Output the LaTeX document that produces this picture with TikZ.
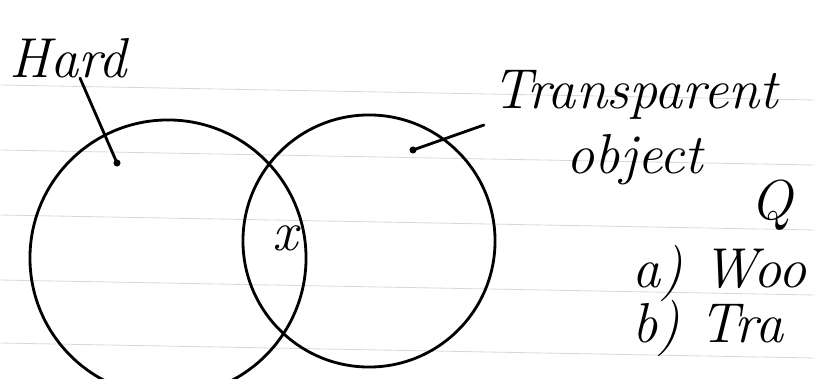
\documentclass[tikz,border=0pt]{standalone}
\usetikzlibrary{positioning}
\begin{document}
\begin{tikzpicture}[
    x=0.025cm, y=-0.025cm,
    setc/.style={circle, draw, line width=2pt, inner sep=0pt},
    hand/.style={font=\fontsize{40}{44}\selectfont\itshape, inner sep=0pt},
    pointer/.style={line width=2pt, line cap=round},
    ruled/.style={gray!30, line width=0.6pt}
]
    \useasboundingbox (0,0) rectangle (814,379);
    % paper lines
    \foreach \yl in {85,150,215,280,343}
        \draw[ruled] (0,\yl) -- (814,\yl+15);

    \node[setc, minimum size=6.9cm] (hard) at (168,258) {};
    \node[setc, minimum size=6.3cm] (transp) at (369,241) {};
    \node[hand] (both) at (285,238) {x};

    \node[hand] (hardlbl) at (68,58) {Hard};
    \coordinate (hardtip) at (117,163);
    \draw[pointer] ([xshift=0.3cm]hardlbl.south) -- (hardtip);
    \fill (hardtip) circle (2.5pt);

    \node[hand] (translbl) at (635,95) {Transparent};
    \node[hand, below=0.35cm of translbl] (objlbl) {object};
    \coordinate (transptip) at (413,150);
    \draw[pointer] ([xshift=-0.2cm,yshift=-0.75cm]translbl.west) -- (transptip);
    \fill (transptip) circle (2.5pt);

    \node[hand] (qlbl) at (772,205) {Q};
    \node[hand, anchor=base west] (itema) at (632,288) {a) Woo};
    \node[hand, anchor=base west] (itemb) at (632,343) {b) Tra};
\end{tikzpicture}
\end{document}
